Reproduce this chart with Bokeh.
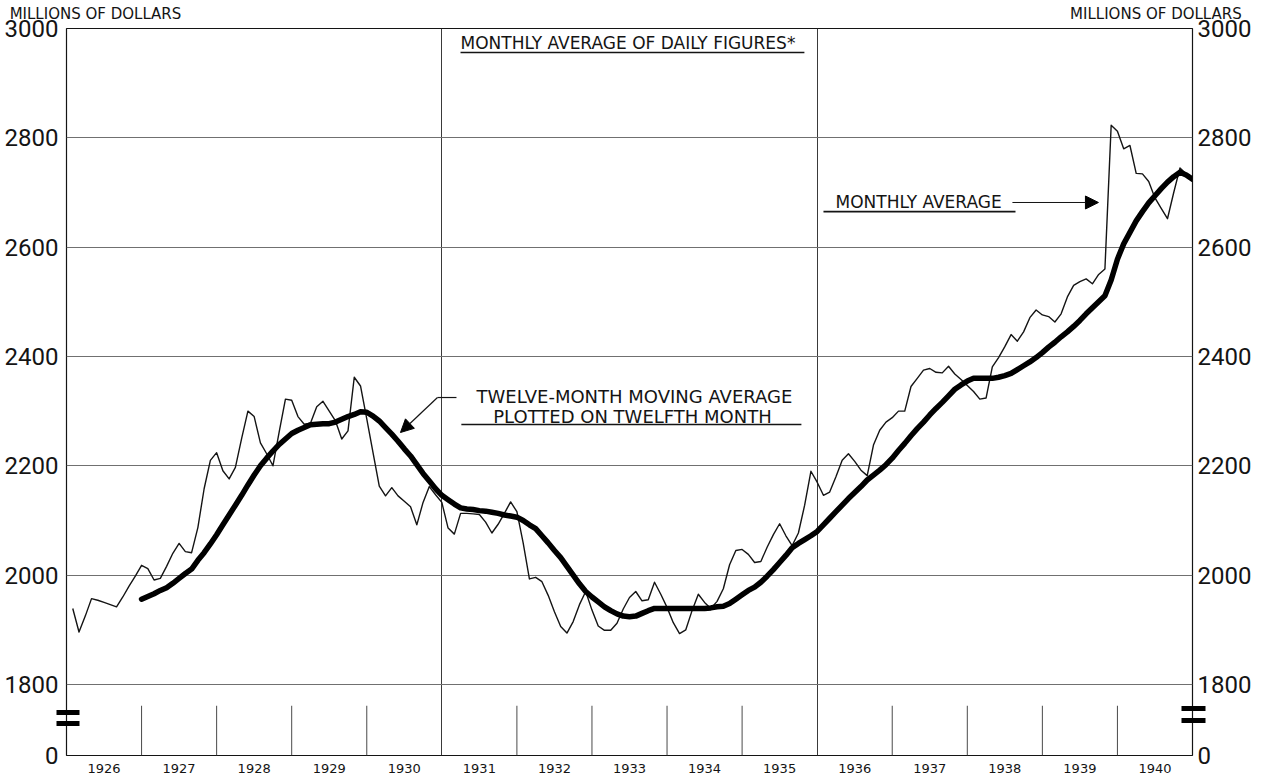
import numpy as np
from bokeh.plotting import figure
from bokeh.models import Range1d, FixedTicker, LinearAxis, Label, Arrow, NormalHead
from bokeh.embed import file_html
from bokeh.resources import INLINE

# ---------------- data ----------------
years = list(range(1926, 1941))
year_labels = [str(y) for y in years]
y_tick_values = [1800, 2000, 2200, 2400, 2600, 2800, 3000]
y_zero_position = 1670          # where the broken axis draws its "0"
full_height_year_lines = [1931, 1936]
unit_label = "MILLIONS OF DOLLARS"

# monthly average of daily figures, Jan 1926 .. Dec 1940 (millions of dollars)
monthly_average = [
    1939, 1896, 1925, 1957, 1954, 1950, 1946, 1942, 1960, 1980, 1998, 2018,  # 1926
    2012, 1991, 1994, 2016, 2040, 2058, 2043, 2041, 2087, 2158, 2210, 2224,  # 1927
    2191, 2176, 2197, 2250, 2300, 2290, 2242, 2222, 2200, 2262, 2322, 2320,  # 1928
    2290, 2276, 2278, 2308, 2318, 2300, 2282, 2249, 2264, 2362, 2346, 2286,  # 1929
    2224, 2163, 2145, 2160, 2145, 2135, 2125, 2092, 2133, 2162, 2147, 2133,  # 1930
    2086, 2075, 2113, 2113, 2112, 2111, 2097, 2077, 2093, 2113, 2134, 2116,  # 1931
    2059, 1993, 1996, 1988, 1963, 1933, 1906, 1894, 1915, 1946, 1970, 1936,  # 1932
    1907, 1899, 1899, 1912, 1938, 1959, 1970, 1953, 1955, 1987, 1965, 1941,  # 1933
    1913, 1893, 1900, 1935, 1965, 1950, 1939, 1952, 1975, 2019, 2045, 2047,  # 1934
    2038, 2023, 2025, 2051, 2074, 2094, 2072, 2054, 2077, 2128, 2190, 2170,  # 1935
    2146, 2152, 2180, 2210, 2222, 2208, 2192, 2182, 2238, 2265, 2280, 2288,  # 1936
    2300, 2300, 2345, 2360, 2375, 2378, 2371, 2370, 2382, 2368, 2358, 2347,  # 1937
    2336, 2322, 2324, 2381, 2398, 2418, 2440, 2428, 2445, 2471, 2485, 2476,  # 1938
    2473, 2463, 2478, 2509, 2530, 2537, 2542, 2533, 2550, 2560, 2823, 2812,  # 1939
    2780, 2786, 2735, 2734, 2720, 2690, 2671, 2652, 2700, 2745, 2734, 2726,  # 1940
]

# twelve-month moving average, plotted on twelfth month (Dec 1926 .. Dec 1940)
moving_average = [
    1956,                                                                    # 1926 Dec
    1961, 1966, 1972, 1977, 1985, 1994, 2003, 2011, 2027, 2041, 2057, 2074,  # 1927
    2092, 2110, 2128, 2146, 2165, 2183, 2200, 2214, 2227, 2239, 2249, 2259,  # 1928
    2265, 2270, 2275, 2276, 2277, 2277, 2280, 2285, 2290, 2294, 2299, 2298,  # 1929
    2291, 2282, 2270, 2258, 2245, 2231, 2218, 2202, 2186, 2172, 2158, 2146,  # 1930
    2138, 2130, 2123, 2121, 2120, 2118, 2117, 2115, 2113, 2110, 2108, 2106,  # 1931
    2100, 2092, 2085, 2072, 2059, 2045, 2032, 2016, 2000, 1984, 1970, 1960,  # 1932
    1951, 1942, 1935, 1929, 1925, 1924, 1925, 1930, 1935, 1939, 1939, 1939,  # 1933
    1939, 1939, 1939, 1939, 1939, 1939, 1940, 1942, 1943, 1948, 1956, 1964,  # 1934
    1972, 1978, 1987, 1998, 2010, 2023, 2036, 2050, 2058, 2065, 2072, 2080,  # 1935
    2092, 2104, 2116, 2128, 2140, 2151, 2162, 2174, 2183, 2192, 2202, 2214,  # 1936
    2228, 2241, 2255, 2268, 2280, 2293, 2305, 2316, 2328, 2340, 2348, 2355,  # 1937
    2360, 2360, 2360, 2360, 2362, 2365, 2369, 2376, 2383, 2390, 2398, 2407,  # 1938
    2417, 2426, 2436, 2445, 2455, 2466, 2478, 2489, 2500, 2511, 2540, 2578,  # 1939
    2606, 2627, 2648, 2665, 2681, 2694, 2707, 2719, 2729, 2737, 2732, 2724,  # 1940
]

# month m (1..180) is plotted at the end of its month
x_monthly = years[0] + np.arange(1, len(monthly_average) + 1) / 12.0
x_moving = x_monthly[len(monthly_average) - len(moving_average):]

# ---------------- figure ----------------
INK = "#141414"
GRID = "#707070"

p = figure(width=1262, height=779,
           x_range=Range1d(years[0], years[-1] + 1),
           y_range=Range1d(y_zero_position, y_tick_values[-1]),
           output_backend="svg", toolbar_location=None,
           min_border_left=66, min_border_right=70,
           min_border_top=28, min_border_bottom=24,
           background_fill_color="white", border_fill_color="white",
           outline_line_color=INK, outline_line_width=1.2)

# y axes (left and right), broken: 0 drawn just below 1800
y_ticks = [y_zero_position] + y_tick_values
y_over = {y_zero_position: "0"}

def style_y(ax, break_marks, tick_in, tick_out, standoff):
    # the axis-break "=" sign is drawn with the axis's own (minor) ticks
    ax.ticker = FixedTicker(ticks=y_ticks, minor_ticks=break_marks)
    ax.major_label_overrides = y_over
    ax.axis_line_color = None
    ax.major_tick_out = 0
    ax.major_tick_in = 0
    ax.minor_tick_in = tick_in
    ax.minor_tick_out = tick_out
    ax.minor_tick_line_width = 5
    ax.minor_tick_line_color = "black"
    ax.minor_tick_line_cap = "butt"
    ax.major_label_standoff = standoff
    ax.major_label_text_font = "Roboto"
    ax.major_label_text_font_size = "24px"
    ax.major_label_text_color = INK

style_y(p.yaxis[0], [1748.6, 1728.5], 13, 10, -2)
right_axis = LinearAxis()
style_y(right_axis, [1755.9, 1733.9], 11, 13, -8)
p.add_layout(right_axis, "right")

# x axis: year names centred in each year
xa = p.xaxis[0]
xa.ticker = FixedTicker(ticks=[y + 0.5 for y in years])
xa.major_label_overrides = {y + 0.5: lbl for y, lbl in zip(years, year_labels)}
xa.axis_line_color = None
xa.major_tick_out = 0
xa.major_tick_in = 0
xa.minor_tick_out = 0
xa.minor_tick_in = 0
xa.major_label_standoff = 8
xa.major_label_text_font = "DejaVu Sans"
xa.major_label_text_font_size = "13px"
xa.major_label_text_color = INK

# top axis carrying the unit captions at both corners
unit_pos = [1926.386, 1940.513]
top_axis = LinearAxis(ticker=FixedTicker(ticks=unit_pos),
                      major_label_overrides={u: unit_label for u in unit_pos})
top_axis.axis_line_color = None
top_axis.major_tick_out = 0
top_axis.major_tick_in = 0
top_axis.minor_tick_out = 0
top_axis.minor_tick_in = 0
top_axis.major_label_standoff = 6
top_axis.major_label_text_font = "DejaVu Sans"
top_axis.major_label_text_font_size = "15px"
top_axis.major_label_text_color = INK
p.add_layout(top_axis, "above")

# grids
p.ygrid.ticker = FixedTicker(ticks=y_tick_values[:-1])
p.ygrid.grid_line_color = GRID
p.ygrid.grid_line_width = 1
p.xgrid.ticker = FixedTicker(ticks=full_height_year_lines)
p.xgrid.grid_line_color = "#3a3a3a"
p.xgrid.grid_line_width = 1

# short year dividers in the broken zone
short_years = [y for y in years[1:] if y not in full_height_year_lines]
p.segment(x0=short_years, y0=y_zero_position, x1=short_years, y1=1761,
          line_color="#4a4a4a", line_width=1)

# data lines
p.line(x_monthly, monthly_average, line_color=INK, line_width=1.4, line_join="round")
p.line(x_moving, moving_average, line_color="black", line_width=5.5,
       line_join="round", line_cap="round")

# ---------------- annotations ----------------
def lab(text, x, y, size, align="left"):
    p.add_layout(Label(text=text, x=x, y=y, text_font="DejaVu Sans",
                       text_font_size=size, text_color=INK, text_align=align,
                       text_baseline="middle"))

def rule(x0, y0, x1, y1, w=1.4, head=None):
    p.add_layout(Arrow(end=head, x_start=x0, y_start=y0, x_end=x1, y_end=y1,
                       line_color=INK, line_width=w))

lab("MONTHLY AVERAGE OF DAILY FIGURES*", 1931.249, 2973.0, "17px")
rule(1931.249, 2956.0, 1935.83, 2956.0, w=1.6)

lab("TWELVE-MONTH MOVING AVERAGE", 1933.566, 2327.0, "18px", align="center")
lab("PLOTTED ON TWELFTH MONTH", 1933.54, 2290.5, "18px", align="center")
rule(1931.26, 2275.5, 1935.79, 2275.5, w=1.6)
rule(1931.195, 2324.9, 1930.942, 2324.9, w=1.2)
rule(1930.942, 2324.9, 1930.449, 2260.9, w=1.2,
     head=NormalHead(size=13, fill_color="black", line_color="black"))

lab("MONTHLY AVERAGE", 1936.244, 2681.7, "17px")
rule(1936.084, 2665.0, 1938.642, 2665.0, w=1.6)
rule(1938.601, 2681.7, 1939.747, 2681.7, w=1.0,
     head=NormalHead(size=13, fill_color="black", line_color="black"))

open("out.html", "w").write(file_html(p, INLINE))
